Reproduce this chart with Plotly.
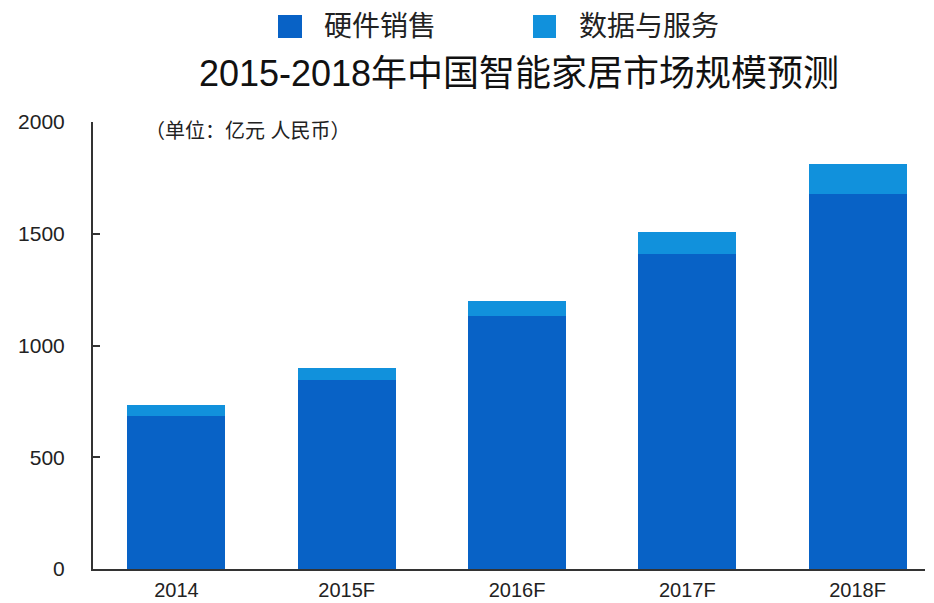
import plotly.graph_objects as go

categories = ["2014", "2015F", "2016F", "2017F", "2018F"]
hardware = [683, 846, 1133, 1410, 1680]
services = [50, 54, 67, 100, 130]
series_names = ["硬件销售", "数据与服务"]
colors = ["#0862C6", "#1191DC"]
y_ticks = [0, 500, 1000, 1500, 2000]

FONT = "Liberation Sans, 'Noto Sans CJK SC', sans-serif"

fig = go.Figure()
for name, vals, col in zip(series_names, [hardware, services], colors):
    fig.add_trace(go.Bar(x=categories, y=vals, name=name, marker_color=col,
                         marker_line_width=0, width=0.575, showlegend=False))

W, H = 934, 603
L, R, T, B = 93, 9, 122, 34
pw, ph = W - L - R, H - T - B

def px(x):
    return (x - L) / pw

def py(y):
    return (H - B - y) / ph

shapes = []
annotations = []
leg = [(278, 302, 322), (533, 556, 577)]
for (x0, x1, tx), name, col in zip(leg, series_names, colors):
    shapes.append(dict(type="rect", xref="paper", yref="paper",
                       x0=px(x0), x1=px(x1), y0=py(38), y1=py(15),
                       fillcolor=col, line_width=0))
    annotations.append(dict(text=name, xref="paper", yref="paper",
                            x=px(tx), y=py(27), xanchor="left", yanchor="middle",
                            showarrow=False, font=dict(size=28, color="#222", family=FONT)))

annotations.append(dict(text="（单位：亿元 人民币）", xref="paper", yref="paper",
                        x=px(143), y=py(131), xanchor="left", yanchor="middle",
                        showarrow=False, font=dict(size=20, color="#222", family=FONT)))

fig.update_layout(
    width=W, height=H,
    margin=dict(l=L, r=R, t=T, b=B, autoexpand=False),
    paper_bgcolor="white", plot_bgcolor="white",
    barmode="stack",
    font=dict(family=FONT, color="#222"),
    title=dict(text="2015-2018年中国智能家居市场规模预测", x=519 / W, xref="container",
               xanchor="center", y=1 - 73 / H, yanchor="middle",
               font=dict(size=36, color="#111", family=FONT)),
    shapes=shapes,
    annotations=annotations,
    xaxis=dict(type="category", range=[-0.49, 4.396], showline=True, linecolor="#333",
               linewidth=2, ticks="", showgrid=False, tickfont=dict(size=20, color="#222"),
               ticklabelstandoff=2, automargin=False),
    yaxis=dict(range=[0, 2000], tickvals=y_ticks, showline=True, linecolor="#333",
               linewidth=2, ticks="inside", ticklen=7, tickcolor="#333", tickwidth=2,
               showgrid=False, zeroline=False, tickfont=dict(size=21, color="#222"),
               ticklabelstandoff=22, automargin=False),
)

fig.write_html("out.html")
